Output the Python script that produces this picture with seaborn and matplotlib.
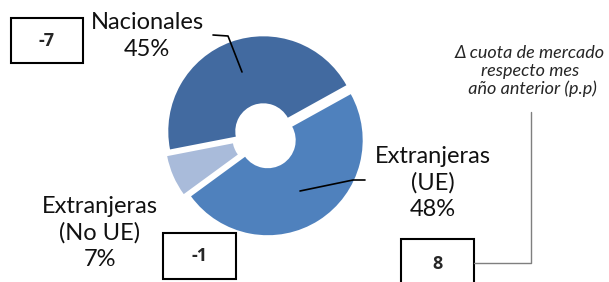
import matplotlib.pyplot as plt
import matplotlib.patches as mpatches
import seaborn as sns

# data
segments = ["Nacionales", "Extranjeras\n(No UE)", "Extranjeras\n(UE)"]
shares = [45, 7, 48]
deltas = [-7, -1, 8]
colors = ["#426AA0", "#A9BBDA", "#4F81BD"]
note = "Δ cuota de mercado\nrespecto mes\n año anterior (p.p)"

sns.set_theme(style="white")
plt.rcParams["font.family"] = ["Lato", "DejaVu Sans"]

H = 282


def fy(y):
    # image row -> data y
    return H - y


fig = plt.figure(figsize=(6.09, 2.82), dpi=100)
ax = fig.add_axes([0, 0, 1, 1])

ax.pie(shares, colors=colors, startangle=29, counterclock=True,
       center=(265, fy(136)), radius=95, explode=[5] * 3,
       wedgeprops=dict(width=67, linewidth=0), frame=True)

ax.set_xlim(0, 609)
ax.set_ylim(0, H)
ax.set_aspect("equal", adjustable="box")
ax.axis("off")

# segment labels
label_pos = [(147, 36), (100, 233), (433, 183)]
for name, val, (x, y) in zip(segments, shares, label_pos):
    ax.text(x, fy(y), f"{name}\n{val}%", ha="center", va="center",
            fontsize=17, linespacing=1.3, color="#111111")

# leader lines
ax.plot([213, 228, 242], [fy(35), fy(36), fy(72)], color="black", lw=1.2)
ax.plot([300, 353, 365], [fy(191), fy(180), fy(180)], color="black", lw=1.2)

# delta boxes
box_pos = [(11, 18, 72, 45), (163, 233, 73, 46), (401, 239, 73, 50)]
for d, (x, y, w, h) in zip(deltas, box_pos):
    ax.add_patch(mpatches.Rectangle((x, fy(y + h)), w, h, fill=False,
                                    edgecolor="black", lw=1.5, clip_on=False))
    ty = y + h / 2 if h < 50 else 264
    ax.text(x + w / 2, fy(ty), f"{d}", ha="center", va="center",
            fontsize=13, fontweight="bold", family=["Open Sans", "DejaVu Sans"])

# note + connector
ax.text(530, fy(71), note, ha="center", va="center", fontsize=13,
        style="italic", linespacing=1.15)
ax.plot([474, 531, 531], [fy(263), fy(263), fy(112)], color="#7f7f7f", lw=1)

plt.savefig("out.png", dpi=100)
plt.close()
